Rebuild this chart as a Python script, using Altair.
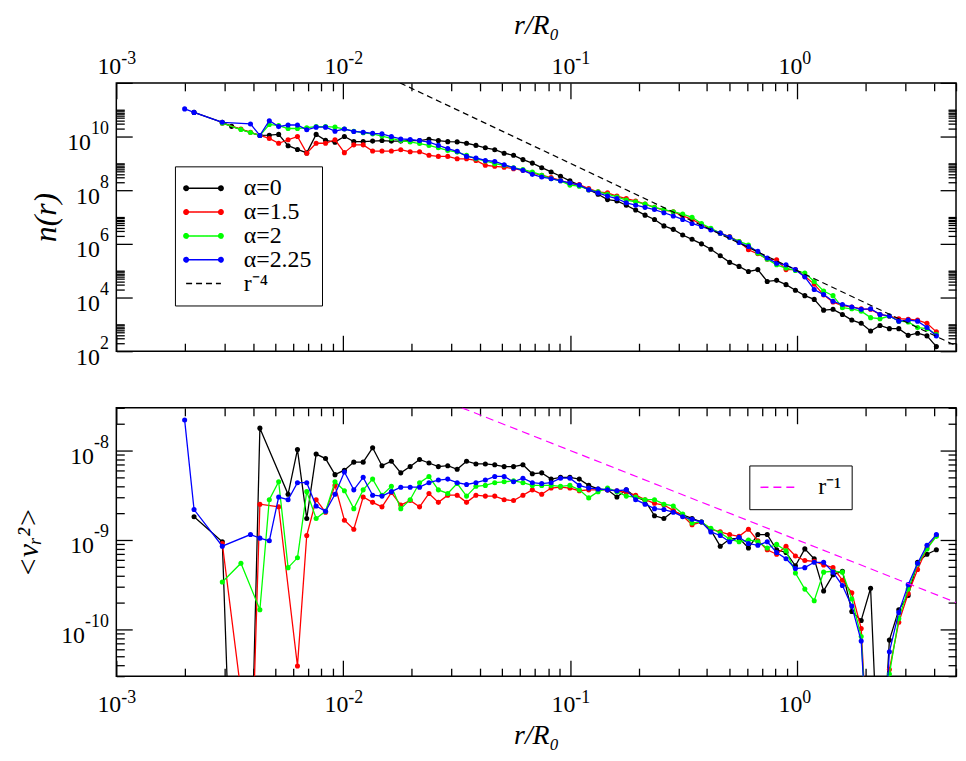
import altair as alt
import pandas as pd

SERIF = "Liberation Serif, Times New Roman, serif"
W, H = 845, 270

# radius bins r/R0
R = [0.00200, 0.00220, 0.00242, 0.00266, 0.00293, 0.00322, 0.00354, 0.00390, 0.00429, 0.00472,
     0.00519, 0.00571, 0.00628, 0.00690, 0.00759, 0.00835, 0.00919, 0.01011, 0.01112, 0.01223,
     0.01346, 0.01480, 0.01628, 0.01791, 0.01970, 0.02167, 0.02384, 0.02622, 0.02884, 0.03173,
     0.03490, 0.03839, 0.04223, 0.04645, 0.05110, 0.05621, 0.06183, 0.06801, 0.07481, 0.08229,
     0.09052, 0.09957, 0.1095, 0.1205, 0.1325, 0.1458, 0.1604, 0.1764, 0.1940, 0.2134,
     0.2348, 0.2583, 0.2841, 0.3125, 0.3437, 0.3781, 0.4159, 0.4575, 0.5033, 0.5536,
     0.6090, 0.6699, 0.7369, 0.8105, 0.8916, 0.9807, 1.0788, 1.1867, 1.3054, 1.4359,
     1.5795, 1.7375, 1.9112, 2.1023, 2.3126, 2.5438, 2.7982, 3.0780, 3.3858, 3.7244,
     4.0968]

# top panel: log10 n(r); None = no point
N_BLACK = [None, 10.90, None, None, 10.53, 10.38, None, None, 10.04, 10.05,
           10.08, 9.66, 9.52, 9.39, 10.08, 9.86, 9.79, 10.00, 9.81, 9.81,
           9.83, 9.85, 9.83, 9.83, 9.85, 9.85, 9.90, 9.85, 9.81, 9.80,
           9.75, 9.67, 9.58, 9.51, 9.38, 9.30, 9.14, 9.01, 8.84, 8.68,
           8.52, 8.35, 8.19, 8.02, 7.85, 7.65, 7.60, 7.44, 7.26, 7.07,
           6.91, 6.67, 6.54, 6.33, 6.17, 6.00, 5.80, 5.56, 5.31, 5.16,
           4.97, 5.04, 4.60, 4.64, 4.48, 4.27, 4.07, 3.93, 3.53, 3.56,
           3.37, 3.16, 3.04, 2.75, 2.96, 2.84, 2.84, 2.59, 2.67, 2.57,
           2.17]
N_RED = [None, None, None, None, 10.50, None, 10.28, 10.16, 10.04, 9.93,
         9.75, 9.88, 10.00, 9.38, 9.75, 9.75, 9.88, 9.40, 9.69, 9.69,
         9.46, 9.46, 9.46, 9.51, 9.43, 9.43, 9.30, 9.26, 9.26, 9.17,
         9.17, 9.11, 8.93, 8.89, 8.86, 8.80, 8.74, 8.64, 8.56, 8.47,
         8.37, 8.25, 8.21, 8.06, 7.94, 7.90, 7.78, 7.69, 7.60, 7.48,
         7.36, 7.26, 7.20, 7.04, 6.91, 6.72, 6.55, 6.40, 6.27, 6.09,
         5.78, 5.63, 5.43, 5.41, 5.04, 5.04, 4.79, 4.50, 4.10, 3.83,
         3.70, 3.65, 3.58, 3.56, 3.37, 3.31, 3.21, 3.19, 3.16, 3.04,
         2.72]
N_GREEN = [None, None, None, None, 10.50, None, 10.26, 10.15, 10.04, 10.45,
           10.41, 10.30, 10.30, 10.33, 10.37, 10.37, 10.35, 10.28, 10.20, 10.14,
           10.10, 10.02, 9.93, 9.85, 9.80, 9.74, 9.67, 9.58, 9.48, 9.42,
           9.30, 9.17, 9.09, 8.99, 8.93, 8.84, 8.77, 8.68, 8.56, 8.43,
           8.35, 8.19, 8.15, 8.02, 7.94, 7.85, 7.75, 7.63, 7.57, 7.48,
           7.36, 7.28, 7.20, 7.11, 6.99, 6.76, 6.58, 6.40, 6.25, 6.09,
           5.96, 5.65, 5.43, 5.22, 5.10, 5.01, 4.91, 4.60, 4.24, 4.07,
           3.62, 3.58, 3.49, 3.25, 3.21, 3.31, 3.12, 3.09, 2.88, 2.84,
           2.62]
N_BLUE = [11.03, 10.90, None, None, 10.53, None, None, 10.47, 10.04, 10.59,
          10.37, 10.43, 10.43, 10.25, 10.35, 10.35, 10.20, 10.28, 10.19, 10.16,
          10.12, 10.10, 10.00, 9.91, 9.89, 9.85, 9.79, 9.67, 9.55, 9.45,
          9.26, 9.20, 9.11, 9.07, 8.95, 8.83, 8.74, 8.59, 8.49, 8.43,
          8.35, 8.27, 8.19, 8.02, 7.90, 7.78, 7.69, 7.53, 7.44, 7.36,
          7.28, 7.16, 7.04, 6.91, 6.76, 6.65, 6.52, 6.40, 6.25, 6.05,
          5.90, 5.72, 5.47, 5.28, 5.22, 5.04, 4.77, 4.30, 4.11, 3.86,
          3.74, 3.65, 3.56, 3.58, 3.37, 3.31, 3.12, 3.16, 3.12, 2.88,
          2.57]

# bottom panel: log10 <v_r^2>; None = no point, -12 = far below the axis
V_BLACK = [None, -8.74, None, None, -9.02, -12, -12, -12, -7.75, None,
           None, -8.49, -7.99, -8.76, -8.04, -8.09, -8.27, -8.22, -8.13, -8.13,
           -7.97, -8.17, -8.12, -8.25, -8.18, -8.10, -8.14, -8.18, -8.17, -8.21,
           -8.12, -8.15, -8.15, -8.16, -8.18, -8.18, -8.16, -8.26, -8.25, -8.32,
           -8.30, -8.30, -8.32, -8.39, -8.43, -8.44, -8.52, -8.44, -8.52, -8.56,
           -8.73, -8.76, -8.68, -8.72, -8.76, -8.80, -8.89, -9.07, -8.99, -8.98,
           -9.09, -8.94, -8.94, -9.11, -9.14, -9.29, -9.10, -9.21, -9.57, -9.39,
           -9.35, -9.80, -9.90, -9.54, -12, -10.12, -9.78, -9.62, -9.25, -9.16,
           -9.11]
V_RED = [None, None, None, None, -9.04, None, -10.7, -12, -8.60, None,
         -8.63, None, -10.41, -8.95, -8.55, -8.69, -8.39, -8.78, -8.88, -8.52,
         -8.58, -8.63, -8.47, -8.61, -8.56, -8.63, -8.48, -8.58, -8.50, -8.50,
         -8.58, -8.50, -8.51, -8.51, -8.55, -8.56, -8.50, -8.44, -8.49, -8.42,
         -8.41, -8.42, -8.45, -8.44, -8.44, -8.44, -8.45, -8.47, -8.50, -8.55,
         -8.59, -8.61, -8.67, -8.73, -8.83, -8.80, -8.88, -8.91, -8.94, -8.96,
         -8.88, -9.01, -9.11, -9.16, -9.07, -9.18, -9.23, -9.24, -9.28, -9.31,
         -9.45, -9.59, -9.99, -12, -12, -10.45, -9.92, -9.60, -9.33, -9.09,
         -8.95]
V_GREEN = [None, None, None, None, -9.47, None, -9.26, None, -9.78, -8.55,
           -8.35, -9.31, -9.20, -8.46, -8.76, -8.68, -8.35, -8.45, -8.65, -8.44,
           -8.32, -8.50, -8.40, -8.65, -8.55, -8.36, -8.29, -8.44, -8.48, -8.37,
           -8.51, -8.40, -8.39, -8.36, -8.35, -8.34, -8.36, -8.39, -8.39, -8.39,
           -8.40, -8.39, -8.44, -8.53, -8.46, -8.42, -8.46, -8.51, -8.52, -8.55,
           -8.55, -8.60, -8.62, -8.71, -8.81, -8.80, -8.87, -8.92, -8.99, -9.02,
           -9.00, -9.02, -9.09, -9.05, -9.12, -9.37, -9.55, -9.68, -9.36, -9.35,
           -9.36, -9.66, -10.08, -12, -12, -10.50, -9.88, -9.55, -9.27, -9.10,
           -8.96]
V_BLUE = [-7.66, -8.66, None, None, -9.07, None, None, -8.94, -8.98, -9.01,
          -8.52, -8.55, -8.36, -8.36, -8.62, -8.68, -8.49, -8.24, -8.44, -8.30,
          -8.50, -8.51, -8.46, -8.41, -8.41, -8.41, -8.36, -8.33, -8.32, -8.36,
          -8.38, -8.36, -8.33, -8.29, -8.29, -8.35, -8.31, -8.36, -8.37, -8.36,
          -8.31, -8.31, -8.39, -8.42, -8.43, -8.44, -8.45, -8.44, -8.55, -8.60,
          -8.65, -8.66, -8.69, -8.74, -8.77, -8.80, -8.91, -8.95, -9.02, -8.97,
          -9.04, -9.06, -9.02, -9.14, -9.21, -9.32, -9.31, -9.25, -9.25, -9.36,
          -9.51, -9.74, -10.13, -12, -12, -10.25, -9.81, -9.50, -9.26, -9.06,
          -8.94]

# reference power laws (end points)
R4_R = [0.01778, 5.0]
R4_N = [1.0e12, 160.0]
R1_R = [0.0333, 5.0]
R1_V = [3.0e-8, 2.0e-10]

SERIES = ["α=0", "α=1.5", "α=2", "α=2.25"]
COLORS = ["#000000", "#ff0000", "#00ff00", "#0000ff"]

# tick label exponents
X_EXP = [-3, -2, -1, 0]
N_EXP = [2, 4, 6, 8, 10]
V_EXP = [-10, -9, -8]

BASE_FS, EXP_FS = 24, 18


def exp_width(e):
    return sum(0.333 * EXP_FS if c == "-" else 0.5 * EXP_FS for c in str(e))


def expr_map(exps):
    e = "round(log(datum.value)/LN10)"
    return " : ".join(f"{e} == {x} ? '{x}'" for x in exps) + " : ''"


def base_axis(orient, exps, pad, loff, align, title=None, tx=0, ty=0, tsize=28):
    kw = dict(orient=orient, values=[10.0 ** e for e in exps], labelExpr="'10'",
              ticks=False, tickSize=0, domain=False, grid=False, labelFont=SERIF,
              labelFontSize=BASE_FS, labelColor="black", labelPadding=pad, labelOffset=loff,
              labelAlign=align, labelFlush=False, labelOverlap=False, labelBound=False)
    if title is not None:
        kw.update(title=title, titleFont=SERIF, titleFontSize=tsize, titleFontStyle="italic",
                  titleFontWeight="normal", titleColor="black", titleX=tx, titleY=ty,
                  titleBaseline="middle", titleAlign="center")
    else:
        kw.update(title=None)
    return alt.Axis(**kw)


def exp_axis(orient, exps, pad, loff, align):
    return alt.Axis(orient=orient, values=[10.0 ** e for e in exps], labelExpr=expr_map(exps),
                    ticks=False, tickSize=0, domain=False, grid=False, labelFont=SERIF,
                    labelFontSize=EXP_FS, labelColor="black", labelPadding=pad, labelOffset=loff,
                    labelAlign=align, labelFlush=False, labelOverlap=False, labelBound=False,
                    title=None)


def tick_axis(orient, offset, values, size):
    return alt.Axis(orient=orient, offset=offset, values=values, labels=False, domain=False,
                    grid=False, ticks=True, tickSize=size, tickWidth=1.3, tickColor="black",
                    minExtent=0, maxExtent=0, title=None)


def df_of(rs, vals):
    rows = [(r, 10.0 ** v) for r, v in zip(rs, vals) if v is not None]
    return pd.DataFrame(rows, columns=["r", "v"])


LEG_SIZE = 400
U = (LEG_SIZE ** 0.5) / 2          # pixels per path unit
HALF = 17.5 / U


def symbol_path(dots):
    def circ(cx, r):
        return (f"M{cx - r:.4f},0A{r:.4f},{r:.4f} 0 1,0 {cx + r:.4f},0"
                f"A{r:.4f},{r:.4f} 0 1,0 {cx - r:.4f},0")
    p = f"M{-HALF:.4f},0L{HALF:.4f},0"
    if dots:
        for cx in (-HALF, HALF):
            for rr in (2.25, 1.0, 0.3):
                p += circ(cx, rr / U)
    return p


def legend_spec(x, y):
    return alt.Legend(title=None, orient="none", legendX=x, legendY=y, fillColor="white",
                      strokeColor="black", padding=10, labelFont=SERIF, labelFontSize=24,
                      labelColor="black", labelOffset=28.5, symbolOffset=6.75,
                      symbolSize=LEG_SIZE, symbolStrokeWidth=1.5, symbolOpacity=1,
                      rowPadding=-2, cornerRadius=0)


def panel(series_vals, xscale, yscale, x_axes, y_axes, ref_r, ref_v, ref_color, ref_dash,
          leg_labels, leg_colors, leg_shapes, leg_dashes, leg_xy):
    layers = []
    idx = 0
    for vals, color in series_vals:
        d = df_of(R, vals)
        for kind in ("line", "pts"):
            xa = x_axes[idx] if idx < len(x_axes) else None
            ya = y_axes[idx] if idx < len(y_axes) else None
            base = alt.Chart(d)
            if kind == "line":
                m = base.mark_line(color=color, strokeWidth=1.3, clip=True)
            else:
                m = base.mark_circle(color=color, size=26, opacity=1, clip=True)
            layers.append(m.encode(x=alt.X("r:Q", scale=xscale, axis=xa),
                                   y=alt.Y("v:Q", scale=yscale, axis=ya)))
            idx += 1
    ref = pd.DataFrame({"r": ref_r, "v": ref_v})
    xa = x_axes[idx] if idx < len(x_axes) else None
    ya = y_axes[idx] if idx < len(y_axes) else None
    layers.append(alt.Chart(ref).mark_line(color=ref_color, strokeWidth=1.2,
                                           strokeDash=ref_dash, clip=True).encode(
        x=alt.X("r:Q", scale=xscale, axis=xa), y=alt.Y("v:Q", scale=yscale, axis=ya)))
    lg = legend_spec(*leg_xy)
    legdf = pd.DataFrame({"s": leg_labels})
    layers.append(alt.Chart(legdf).mark_point(filled=False, opacity=1, strokeWidth=1.5)
                  .transform_filter("false").encode(
        color=alt.Color("s:N", scale=alt.Scale(domain=leg_labels, range=leg_colors), legend=lg),
        shape=alt.Shape("s:N", scale=alt.Scale(domain=leg_labels, range=leg_shapes), legend=lg),
        strokeDash=alt.StrokeDash("s:N", scale=alt.Scale(domain=leg_labels, range=leg_dashes),
                                  legend=lg)))
    return alt.layer(*layers).resolve_axis(x="independent", y="independent").properties(
        width=W, height=H)


xscale = alt.Scale(type="log", domain=[1e-3, 5], nice=False)
nscale = alt.Scale(type="log", domain=[1e2, 1e12], nice=False)
vscale = alt.Scale(type="log", domain=[3e-11, 3e-8], nice=False)

X_MAJ = [10.0 ** e for e in X_EXP]
X_MIN = [k * 10.0 ** d for d in X_EXP for k in range(2, 10) if k * 10.0 ** d <= 5.0001]
N_MAJ = [10.0 ** e for e in (2, 4, 6, 8, 10, 12)]
N_MIN = [k * 10.0 ** e for e in N_EXP for k in range(2, 11)]
V_MAJ = [10.0 ** e for e in V_EXP]
V_MIN = [k * 10.0 ** e for e in (-11, -10, -9, -8) for k in range(2, 10)
         if 2.99e-11 <= k * 10.0 ** e <= 3.01e-8]

MAJ, MIN = 16, 8
XJ = (BASE_FS - exp_width(-3)) / 2      # junction of "10" and exponent, right of tick


def x_ticks():
    return [tick_axis("bottom", -H, X_MAJ, MAJ), tick_axis("bottom", -H, X_MIN, MIN),
            tick_axis("top", -H, X_MAJ, MAJ), tick_axis("top", -H, X_MIN, MIN)]


def y_ticks(maj, mnr):
    return [tick_axis("right", -W, maj, MAJ), tick_axis("right", -W, mnr, MIN),
            tick_axis("left", -W, maj, MAJ), tick_axis("left", -W, mnr, MIN)]


def y_labels(exps, title, tx, tsize):
    groups = {}
    for e in exps:
        groups.setdefault(exp_width(e), []).append(e)
    axes = [exp_axis("left", exps, 8, -8, "right")]
    first = True
    for wdt, es in groups.items():
        if first:
            axes.append(base_axis("left", es, 8 + wdt, 6, "right", title, tx, H / 2, tsize))
            first = False
        else:
            axes.append(base_axis("left", es, 8 + wdt, 6, "right"))
    return axes


top_x = [base_axis("top", X_EXP, 4, XJ, "right", "r/R₀", W / 2, -58, 28),
         exp_axis("top", X_EXP, 15, XJ, "left")] + x_ticks()
top_y = y_labels(N_EXP, "n(r)", -71, 32) + y_ticks(N_MAJ, N_MIN)

bot_x = [base_axis("bottom", X_EXP, 17, XJ, "right", "r/R₀", W / 2, 60, 28),
         exp_axis("bottom", X_EXP, 13, XJ, "left")] + x_ticks()
bot_y = y_labels(V_EXP, "<vᵣ²>", -88, 30) + y_ticks(V_MAJ, V_MIN)

top = panel(
    list(zip([N_BLACK, N_RED, N_GREEN, N_BLUE], COLORS)), xscale, nscale, top_x, top_y,
    R4_R, R4_N, "black", [6, 4],
    SERIES + ["r⁻⁴"], COLORS + ["#000000"],
    [symbol_path(True)] * 4 + [symbol_path(False)],
    [[1, 0]] * 4 + [[6, 4]], (59, 84))

bottom = panel(
    list(zip([V_BLACK, V_RED, V_GREEN, V_BLUE], COLORS)), xscale, vscale, bot_x, bot_y,
    R1_R, R1_V, "#ff00ff", [8, 5],
    ["r⁻¹"], ["#ff00ff"], [symbol_path(False)], [[8, 5]], (637, 58))

chart = alt.vconcat(top, bottom, spacing=36).resolve_scale(
    color="independent", shape="independent", strokeDash="independent"
).configure_view(stroke="black", strokeWidth=1.5).properties(
    padding={"left": 5, "top": 0, "right": 0, "bottom": 0})

chart.save("out.html", embed_options={"renderer": "svg", "actions": False})
